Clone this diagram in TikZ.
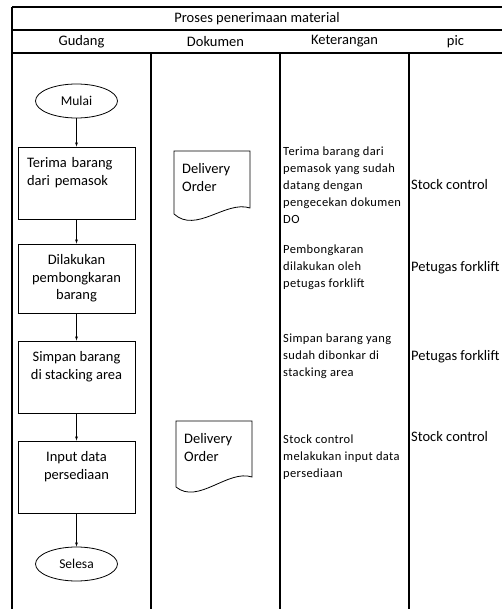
\documentclass[tikz,border=0pt]{standalone}
\usepackage{fontspec}
\setmainfont{Carlito}
\usetikzlibrary{shapes.geometric,positioning}
\tikzset{
	garis/.style={line width=1.6pt},
	judul/.style={inner sep=0pt,font=\fontsize{14.5}{17}\selectfont},
	kotak/.style={draw,line width=0.8pt,minimum width=117pt,minimum height=72pt,align=center,font=\fontsize{14.5}{17.5}\selectfont},
	ujung/.style={draw,ellipse,line width=0.8pt,minimum width=82pt,minimum height=34pt,inner sep=0pt,font=\fontsize{13.5}{16}\selectfont},
	dokumen/.style={line width=0.8pt},
	isidok/.style={anchor=north west,align=left,inner sep=0pt,font=\fontsize{14.5}{18}\selectfont},
	ket/.style={anchor=north west,align=left,inner sep=0pt,font=\fontsize{12.5}{17}\selectfont\addfontfeatures{LetterSpace=3}},
	isipic/.style={anchor=west,inner sep=0pt,font=\fontsize{14.5}{17}\selectfont}
}
\begin{document}
\begin{tikzpicture}[x=1pt,y=-1pt,>=latex]
	\useasboundingbox (0,0) rectangle (502,609);
	% tabel
	\draw[garis] (12,7)--(502,7) (12,30)--(502,30) (12,53)--(502,53);
	\draw[garis] (12,7)--(12,609) (151,53)--(151,609) (280,53)--(280,609) (409,53)--(409,609);
	\node[judul] (judul) at (257,18.5) {Proses penerimaan material};
	\node[judul] (gudang) at (81.5,41.5) {Gudang};
	\node[judul] (dokumen) at (215.5,41.5) {Dokumen};
	\node[judul] (keterangan) at (344.5,41.5) {Keterangan};
	\node[judul] (pic) at (455.5,41.5) {pic};
	
	% alur gudang
	\node[ujung] (mulai) at (76.5,101) {Mulai};
	\node[kotak,align=left,text width=99pt,inner xsep=9pt] (terima) at (76.5,183) {Terima barang\\dari pemasok\\\strut};
	\node[kotak,minimum height=69pt] (bongkar) at (76.5,278.5) {Dilakukan\\pembongkaran\\barang};
	\node[kotak] (simpan) at (76.5,377) {Simpan barang\\di stacking area\\\strut};
	\node[kotak] (input) at (76.5,477) {Input data\\persediaan\\\strut};
	\node[ujung] (selesa) at (76.5,564) {Selesa};
	\draw[->] (mulai)--(terima);
	\draw[->] (terima)--(bongkar);
	\draw[->] (bongkar)--(simpan);
	\draw[->] (simpan)--(input);
	\draw[->] (input)--(selesa);
	
	% dokumen
	\draw[dokumen,shift={(174,151)}] (0,0)--(76,0)--(76,57) .. controls (52,49) and (22,83) .. (0,63)--cycle;
	\node[isidok] (doka) at (182,163) {Delivery\\Order};
	\draw[dokumen,shift={(176,421)}] (0,0)--(76,0)--(76,56) .. controls (52,48) and (22,84) .. (0,66)--cycle;
	\node[isidok] (dokb) at (184,433) {Delivery\\Order};
	
	% keterangan
	\node[ket] (keta) at (283,147) {Terima barang dari\\pemasok yang sudah\\datang dengan\\pengecekan dokumen\\DO};
	\node[ket] (ketb) at (283,245) {Pembongkaran\\dilakukan oleh\\petugas forklift};
	\node[ket] (ketc) at (283,334) {Simpan barang yang\\sudah dibonkar di\\stacking area};
	\node[ket] (ketd) at (283,435) {Stock control\\melakukan input data\\persediaan};
	
	% pic
	\node[isipic] (pica) at (411,185) {Stock control};
	\node[isipic] (picb) at (411,268) {Petugas forklift};
	\node[isipic] (picc) at (411,357) {Petugas forklift};
	\node[isipic] (picd) at (411,437) {Stock control};
\end{tikzpicture}
\end{document}
